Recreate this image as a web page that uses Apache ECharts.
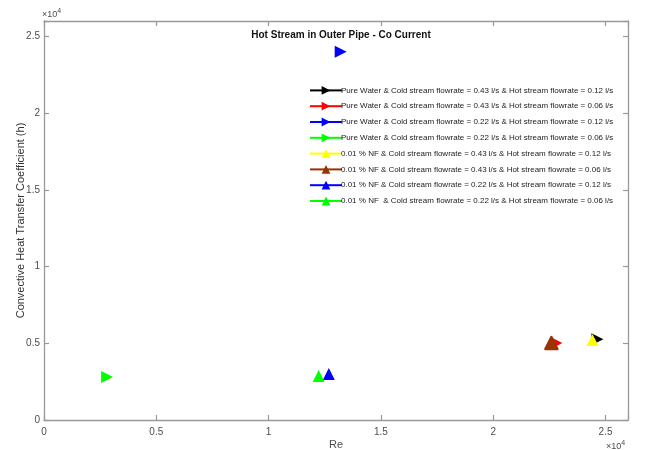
<!DOCTYPE html>
<html>
<head>
<meta charset="utf-8">
<script src="https://cdn.jsdelivr.net/npm/echarts@6/dist/echarts.min.js"></script>
<style>
  html, body { margin: 0; padding: 0; background: #fff; }
  #chart { width: 646px; height: 450px; }
</style>
</head>
<body>
<div id="chart"></div>
<script>
// Convective heat transfer coefficient vs Reynolds number, hot stream in outer pipe (co-current)
const seriesNames = [
  'Pure Water & Cold stream flowrate = 0.43 l/s & Hot stream flowrate = 0.12 l/s',
  'Pure Water & Cold stream flowrate = 0.43 l/s & Hot stream flowrate = 0.06 l/s',
  'Pure Water & Cold stream flowrate = 0.22 l/s & Hot stream flowrate = 0.12 l/s',
  'Pure Water & Cold stream flowrate = 0.22 l/s & Hot stream flowrate = 0.06 l/s',
  '0.01 % NF & Cold stream flowrate = 0.43 l/s & Hot stream flowrate = 0.12 l/s',
  '0.01 % NF & Cold stream flowrate = 0.43 l/s & Hot stream flowrate = 0.06 l/s',
  '0.01 % NF & Cold stream flowrate = 0.22 l/s & Hot stream flowrate = 0.12 l/s',
  '0.01 % NF  & Cold stream flowrate = 0.22 l/s & Hot stream flowrate = 0.06 l/s'
];
const reValues = [24640, 22810, 13210, 2810, 24420, 22590, 12680, 12230];
const hValues  = [5270, 5010, 24000, 2800, 5210, 5010, 3000, 2870];
const markerColors = ['#000000', '#ff0000', '#0000ff', '#00ff00', '#ffff00', '#993300', '#0000ff', '#00ff00'];
const markerShapes = ['right', 'right', 'right', 'right', 'up', 'up', 'up', 'up'];
const xTicks = [0, 5000, 10000, 15000, 20000, 25000];
const yTicks = [0, 5000, 10000, 15000, 20000, 25000];

const axisGray = '#999999';
const labelGray = '#4d4d4d';
const font = 'Liberation Sans, Arial, sans-serif';

const fmtFrom = ticks => v => (ticks.indexOf(v) >= 0 ? String(v / 10000) : '');

function baseAxis(ticks, extra) {
  return Object.assign({
    type: 'value',
    min: 0,
    max: 26000,
    interval: 5000,
    splitLine: { show: false },
    axisLine: { show: true, onZero: false, lineStyle: { color: axisGray, width: 1.3 } },
    axisTick: { show: true, inside: true, length: 5, lineStyle: { color: axisGray, width: 1.2 } },
    axisLabel: { color: labelGray, fontSize: 10, fontFamily: font, formatter: fmtFrom(ticks) }
  }, extra);
}

const series = seriesNames.map((name, i) => {
  const thick = i === 5;
  return {
    name: name,
    type: 'line',
    xAxisIndex: 0,
    yAxisIndex: 0,
    data: [[reValues[i], hValues[i]]],
    symbol: 'triangle',
    symbolSize: 12,
    symbolRotate: markerShapes[i] === 'right' ? -90 : 0,
    showSymbol: true,
    lineStyle: { color: markerColors[i], width: thick ? 5 : 1 },
    itemStyle: {
      color: markerColors[i],
      borderColor: markerColors[i],
      borderWidth: thick ? 2.5 : 0,
      borderJoin: 'round'
    },
    emphasis: { disabled: true },
    z: 3
  };
});

const superRich = {
  a: { fontSize: 9, fill: labelGray, fontFamily: font },
  b: { fontSize: 7, fill: labelGray, fontFamily: font, verticalAlign: 'top', padding: [0, 0, 6, 0] }
};

const chart = echarts.init(document.getElementById('chart'), null, { renderer: 'canvas' });
chart.setOption({
  animation: false,
  backgroundColor: '#ffffff',
  title: {
    text: 'Hot Stream in Outer Pipe - Co Current',
    left: 336,
    top: 25,
    textAlign: 'center',
    textStyle: { fontSize: 10, fontWeight: 'bold', color: '#111', fontFamily: font }
  },
  grid: { left: 44, right: 18, top: 21, bottom: 30, containLabel: false, outerBoundsMode: 'none', show: false },
  legend: {
    orient: 'vertical',
    left: 304,
    top: 81,
    itemWidth: 32,
    itemHeight: 11,
    itemGap: 7,
    itemStyle: { borderWidth: 0 },
    textStyle: { fontSize: 8, color: '#222', fontFamily: font, padding: [0, 0, 0, -6] },
    data: seriesNames
  },
  xAxis: [
    baseAxis(xTicks, {
      position: 'bottom',
      name: 'Re',
      nameLocation: 'middle',
      nameGap: 19,
      nameMoveOverlap: false,
      nameTextStyle: { color: labelGray, fontSize: 11, fontFamily: font }
    }),
    baseAxis(xTicks, { position: 'top', axisLabel: { show: false } })
  ],
  yAxis: [
    baseAxis(yTicks, {
      position: 'left',
      name: 'Convective Heat Transfer Coefficient (h)',
      nameLocation: 'middle',
      nameGap: 18,
      nameMoveOverlap: false,
      nameTextStyle: { color: '#333', fontSize: 11, fontFamily: font }
    }),
    baseAxis(yTicks, { position: 'right', axisLabel: { show: false } })
  ],
  graphic: [
    { type: 'text', left: 42, top: 8, style: { text: '{a|×10}{b|4}', rich: superRich } },
    { type: 'text', left: 606, top: 440, style: { text: '{a|×10}{b|4}', rich: superRich } }
  ],
  series: series
});
chart.setOption({
  yAxis: [{ axisLabel: { margin: 4 } }, {}],
  xAxis: [{ axisLabel: { margin: 7 } }, {}]
});
</script>
</body>
</html>
